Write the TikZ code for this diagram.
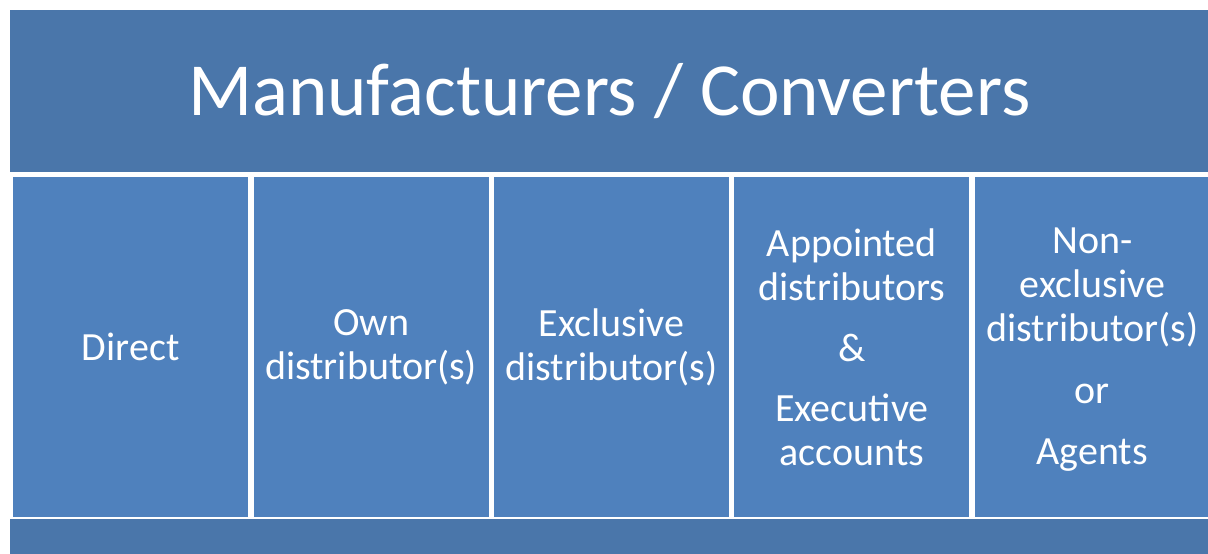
\documentclass[tikz,border=0pt]{standalone}
\usepackage{fontspec}
\setmainfont{Carlito}
\usetikzlibrary{positioning}
\definecolor{barblue}{HTML}{4A76AA}
\definecolor{colblue}{HTML}{4F81BD}

\begin{document}
\begin{tikzpicture}[x=1pt, y=-1pt,
    bar/.style={fill=barblue, text=white, inner sep=0pt, anchor=north west,
      minimum width=1198pt},
    channel/.style={fill=colblue, text=white, inner sep=0pt, align=center,
      minimum width=235pt, minimum height=340pt,
      font=\fontsize{40}{44}\selectfont},
    node distance=5pt]

    \useasboundingbox (0,0) rectangle (1208,554);

    % Define nodes
    \node[bar, minimum height=162pt, font=\fontsize{75}{80}\selectfont] (maker) at (10,10) {Manufacturers / Converters};
    \node[channel, anchor=north west] (direct) at (13,177) {Direct};
    \node[channel, right=of direct]  (own) {Own\\distributor(s)};
    \node[channel, right=of own]     (excl) {Exclusive\\distributor(s)};
    \node[channel, right=of excl]    (appt) {Appointed\\distributors\\[17pt]\&\\[16pt]Executive\\accounts};
    \node[channel, right=of appt, text depth=3pt] (nonexcl) {Non-\\exclusive\\distributor(s)\\[18pt]or\\[17pt]Agents};
    \node[bar, minimum height=40pt] (base) at (10,519) {};
  \end{tikzpicture}
\end{document}
